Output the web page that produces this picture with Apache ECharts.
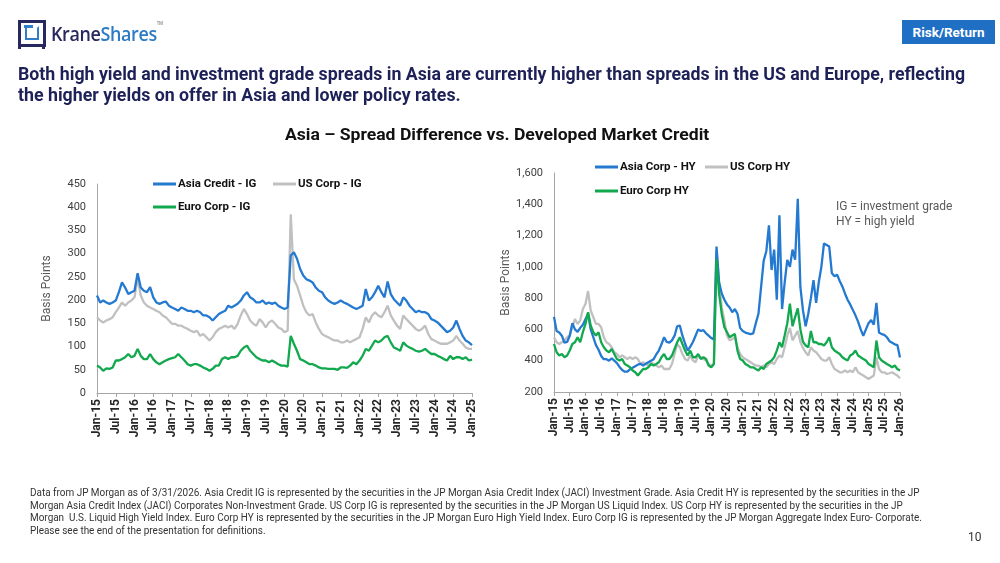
<!DOCTYPE html>
<html>
<head>
<meta charset="utf-8">
<script src="https://cdn.jsdelivr.net/npm/echarts@6/dist/echarts.min.js"></script>
<style>
  body{margin:0;background:#fff;}
  #page{position:relative;width:1000px;height:563px;background:#fff;overflow:hidden;font-family:Roboto,"Noto Sans",sans-serif;}
  #chart{position:absolute;left:0;top:0;width:1000px;height:563px;}
  .txt{position:absolute;white-space:nowrap;z-index:2;display:inline-block;}
  .logo-frame{position:absolute;left:18px;top:20px;width:22px;height:21px;border:3px solid #27295e;}
  .logo-leg{position:absolute;top:44px;width:3px;height:5px;background:#27295e;}
  .logo-in{position:absolute;left:25px;top:26px;width:10px;height:10px;border:2.5px solid #2f80c8;border-top-color:transparent;}
  .logo-in2{position:absolute;left:24px;top:25px;width:9px;height:3px;background:#2f80c8;}
</style>
</head>
<body>
<div id="page">
  <div id="chart"></div>
  <!-- logo -->
  <div class="logo-frame"></div>
  <div class="logo-leg" style="left:18px"></div>
  <div class="logo-leg" style="left:42px"></div>
  <div class="logo-in"></div>
  <div class="logo-in2"></div>
  <div class="txt fit" data-w="112" style="left:51px;top:20px;font-family:'Open Sans';font-size:20px;font-weight:600;letter-spacing:-0.4px;transform-origin:0 0;">
    <span style="color:#27295e">Krane</span><span style="color:#2d7bc4">Shares</span><span style="font-size:5px;color:#888;vertical-align:top">TM</span>
  </div>
  <!-- badge -->
  <div class="txt" style="left:902px;top:20px;width:93px;height:24px;background:#1f6fc5;color:#fff;font-weight:bold;font-size:13.5px;line-height:24px;text-align:center;">Risk/Return</div>
  <!-- headline -->
  <div class="txt fit" data-w="947" style="left:18px;top:63px;color:#1e2157;font-weight:bold;font-size:19px;line-height:21px;transform-origin:0 0;">Both high yield and investment grade spreads in Asia are currently higher than spreads in the US and Europe, reflecting<br>the higher yields on offer in Asia and lower policy rates.</div>
  <!-- chart title -->
  <div class="txt fit" data-w="424" style="left:497px;top:124px;color:#111;font-weight:bold;font-size:17px;line-height:20px;transform-origin:0 0;" data-center="1">Asia – Spread Difference vs. Developed Market Credit</div>
  <!-- notes -->
  <div class="txt" style="left:836px;top:199px;color:#595959;font-size:12px;line-height:15px;">IG = investment grade<br>HY = high yield</div>
  <!-- footnote -->
  <div class="txt fit" data-w="892" style="left:30px;top:487px;color:#333;font-size:10.2px;line-height:12.6px;transform-origin:0 0;">Data from JP Morgan as of 3/31/2026. Asia Credit IG is represented by the securities in the JP Morgan Asia Credit Index (JACI) Investment Grade. Asia Credit HY is represented by the securities in the JP<br>Morgan Asia Credit Index (JACI) Corporates Non-Investment Grade. US Corp IG is represented by the securities in the JP Morgan US Liquid Index. US Corp HY is represented by the securities in the JP<br>Morgan&nbsp; U.S. Liquid High Yield Index. Euro Corp HY is represented by the securities in the JP Morgan Euro High Yield Index. Euro Corp IG is represented by the JP Morgan Aggregate Index Euro- Corporate.<br>Please see the end of the presentation for definitions.</div>
  <div class="txt" style="left:968px;top:530px;color:#333;font-size:12px;">10</div>
</div>
<script>
// squeeze the text blocks to the narrow widths of the original slide font
document.querySelectorAll('.fit').forEach(function(el){
  var w = el.offsetWidth;
  var s = (+el.getAttribute('data-w')) / w;
  if (el.getAttribute('data-center')) {
    el.style.transform = 'translateX(' + (-w * s / 2) + 'px) scaleX(' + s + ')';
  } else {
    el.style.transform = 'scaleX(' + s + ')';
  }
});

// month categories, Jan-15 .. Jan-26
var monthAbbr = ['Jan','Feb','Mar','Apr','May','Jun','Jul','Aug','Sep','Oct','Nov','Dec'];
var years = ['15','16','17','18','19','20','21','22','23','24','25'];
var months = [];
years.forEach(function(y){ monthAbbr.forEach(function(m){ months.push(m + '-' + y); }); });
months.push('Jan-26');
var monthsIG = months.slice(0, 121); // Jan-15 .. Jan-25

// investment grade spreads (bp), monthly
var asiaIG = [
  210,195,199,195,192,195,199,217,238,227,213,217,
  220,258,227,220,217,228,206,195,192,195,197,188,
  184,181,177,184,181,177,177,174,177,174,167,167,
  163,156,163,170,174,177,188,184,188,192,199,210,
  217,206,202,195,195,199,192,195,192,195,188,184,
  181,184,296,303,289,267,253,245,242,238,227,220,
  217,206,199,195,192,195,199,195,192,188,184,181,
  184,188,224,199,206,217,231,217,206,240,213,202,
  195,188,206,199,188,181,174,177,174,174,170,159,
  156,152,145,138,131,134,141,156,138,123,113,109,
  103
];
var usIG = [
  163,156,152,156,159,163,174,184,195,188,195,199,
  206,248,210,195,188,184,181,177,174,167,163,156,
  149,149,145,145,141,138,134,131,134,123,127,120,
  113,120,131,138,141,145,141,145,138,149,167,181,
  170,156,149,145,159,152,141,152,156,149,141,138,
  131,134,385,245,231,210,188,174,167,170,152,138,
  127,123,120,116,113,113,109,109,113,109,113,116,
  120,138,163,152,167,174,167,163,174,188,167,156,
  145,138,167,159,152,145,138,134,138,145,127,116,
  113,109,106,106,106,109,113,123,113,106,98,95,
  95
];
var euroIG = [
  59,55,48,53,52,55,70,70,73,77,84,77,
  80,95,80,73,73,84,73,66,62,66,70,73,
  75,77,84,77,70,62,59,62,62,59,55,52,
  48,52,59,59,73,77,73,77,77,80,91,98,
  102,91,84,77,73,70,70,66,70,66,62,59,
  59,57,123,106,91,73,70,66,62,62,59,55,
  53,53,52,52,52,50,55,55,54,59,66,62,
  70,80,95,91,102,113,109,113,120,123,109,98,
  95,91,109,102,98,95,91,89,91,95,89,84,
  84,80,77,73,70,80,73,77,77,73,77,70,
  72
];

// high yield spreads (bp), monthly
var asiaHY = [
  680,590,580,560,515,520,560,640,600,585,610,630,
  665,700,600,550,500,470,430,410,410,400,415,400,
  385,360,340,330,330,345,355,365,375,380,370,380,
  390,400,410,440,465,505,550,520,515,530,560,620,
  625,560,510,465,490,520,560,600,590,595,575,560,
  545,535,1130,900,830,790,760,740,710,730,700,610,
  590,580,575,570,575,640,700,870,1040,1100,1265,980,
  1110,790,1330,730,900,1045,1000,1110,1045,1435,870,720,
  620,700,800,915,770,900,1000,1150,1140,1130,960,940,
  950,910,875,830,790,760,725,690,650,600,560,600,
  640,660,630,770,580,570,565,550,525,515,505,500,
  420
];
var usHY = [
  550,518,507,518,529,550,561,614,667,635,657,731,
  763,845,721,678,635,635,614,550,518,507,486,454,
  443,422,433,422,411,422,411,422,411,379,390,379,
  369,390,379,369,358,369,347,347,347,379,443,507,
  486,443,411,401,433,401,390,433,422,411,401,379,
  369,379,1105,891,742,657,561,529,539,550,486,443,
  422,411,401,390,379,369,369,358,369,358,379,390,
  379,411,433,422,486,560,610,530,560,590,520,480,
  454,433,486,465,454,433,411,401,401,422,379,347,
  337,326,326,337,326,337,326,358,326,315,305,294,
  283,294,305,422,347,326,326,315,320,326,315,305,
  288
];
var euroHY = [
  507,454,433,443,422,433,465,507,518,550,518,582,
  635,710,625,582,561,582,518,486,465,454,475,443,
  411,401,411,379,369,358,337,326,305,326,347,347,
  358,379,369,379,390,422,443,411,411,433,475,518,
  550,507,465,433,465,422,422,443,411,422,411,369,
  358,379,1050,827,699,614,582,550,561,571,465,411,
  401,379,369,358,358,347,337,358,347,379,390,401,
  422,465,518,486,561,640,765,620,680,735,600,520,
  497,486,590,518,518,507,507,497,518,550,486,465,
  454,443,422,411,401,433,443,465,433,422,411,401,
  379,369,358,529,422,401,390,379,369,358,369,347,
  337
];

var BLUE = '#2479d0', GREY = '#c0c0c0', GREEN = '#12a84e';
var axisGrey = '#a6a6a6';

function xAxisCfg(gi, cats){
  return {
    type: 'category', gridIndex: gi, data: cats, boundaryGap: false,
    axisLine: { lineStyle: { color: axisGrey } },
    axisTick: { interval: 5, length: 4, lineStyle: { color: axisGrey } },
    axisLabel: { interval: 5, rotate: 90, fontSize: 12, fontWeight: 'bold', color: '#262626', margin: 6, fontFamily: 'Roboto' },
    splitLine: { show: false }
  };
}
function yAxisCfg(gi, min, max, step, gap){
  return {
    type: 'value', gridIndex: gi, min: min, max: max, interval: step,
    axisLine: { show: true, lineStyle: { color: axisGrey } },
    axisTick: { show: false },
    splitLine: { show: false },
    axisLabel: { fontSize: 11, color: '#404040', margin: 11, fontFamily: 'Roboto',
      formatter: function(v){ return v.toLocaleString('en-US'); } },
    name: 'Basis Points', nameLocation: 'middle', nameGap: gap,
    nameTextStyle: { fontSize: 12, color: '#595959', fontFamily: 'Roboto' }
  };
}
function legendCfg(name, left, top){
  return {
    data: [name], left: left, top: top, padding: 0, itemGap: 0,
    icon: 'rect', itemWidth: 23, itemHeight: 3, selectedMode: false,
    textStyle: { fontSize: 11.5, fontWeight: 'bold', color: '#111', fontFamily: 'Roboto', padding: [0,0,0,-3] }
  };
}
function line(name, data, color, xi){
  return {
    name: name, type: 'line', data: data, xAxisIndex: xi, yAxisIndex: xi,
    showSymbol: false, symbol: 'none', color: color,
    lineStyle: { width: 2.3, color: color }
  };
}

var chart = echarts.init(document.getElementById('chart'));
chart.setOption({
  animation: false,
  tooltip: { show: false },
  grid: [
    { left: 97, top: 184, width: 375, height: 209 },
    { left: 554, top: 173, width: 346, height: 219 }
  ],
  xAxis: [ xAxisCfg(0, monthsIG), xAxisCfg(1, months) ],
  yAxis: [ yAxisCfg(0, 0, 450, 50, 44), yAxisCfg(1, 200, 1600, 200, 42) ],
  legend: [
    legendCfg('Asia Credit - IG', 153, 178),
    legendCfg('US Corp - IG', 273, 178),
    legendCfg('Euro Corp - IG', 153, 201),
    legendCfg('Asia Corp - HY', 595, 161),
    legendCfg('US Corp HY', 705, 161),
    legendCfg('Euro Corp HY', 595, 185)
  ],
  series: [
    line('US Corp - IG', usIG, GREY, 0),
    line('Asia Credit - IG', asiaIG, BLUE, 0),
    line('Euro Corp - IG', euroIG, GREEN, 0),
    line('US Corp HY', usHY, GREY, 1),
    line('Asia Corp - HY', asiaHY, BLUE, 1),
    line('Euro Corp HY', euroHY, GREEN, 1)
  ]
});
</script>
</body>
</html>
